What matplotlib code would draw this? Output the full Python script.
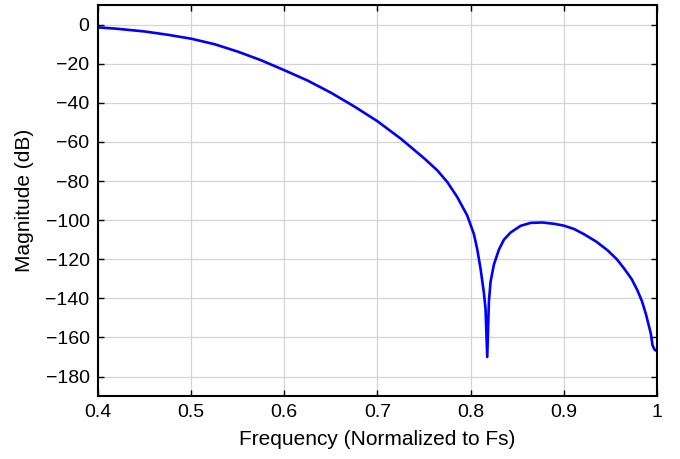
import numpy as np
import matplotlib.pyplot as plt

plt.rcParams['font.family'] = ['Liberation Sans', 'DejaVu Sans']

# values
freq = [0.400, 0.420, 0.450, 0.475, 0.500, 0.525, 0.550, 0.575, 0.600,
        0.625, 0.650, 0.675, 0.700, 0.725, 0.750, 0.7642, 0.775, 0.7857,
        0.7964, 0.8036, 0.8072, 0.8108, 0.8143, 0.8161, 0.8179,
        0.8197, 0.8215, 0.825, 0.8304, 0.8358, 0.843, 0.8538, 0.8645,
        0.877, 0.890, 0.900, 0.911, 0.9218, 0.935, 0.947, 0.957, 0.9649,
        0.973, 0.9792, 0.984, 0.9882, 0.9935, 0.9953, 0.9975, 1.000]
mag_db = [-1.4, -2.1, -3.5, -5.2, -7.2, -10.0, -13.8, -18.2, -23.3,
          -28.6, -34.8, -41.8, -49.4, -58.3, -68.3, -74.5, -80.5, -88.2,
          -97.6, -107.2, -114.9, -125.1, -137.1, -145.6, -170.0,
          -141.6, -131.4, -122.8, -115.1, -110.0, -106.3, -102.9, -101.4,
          -101.2, -101.9, -102.8, -104.5, -107.2, -111.0, -115.4, -120.0, -124.8,
          -130.2, -136.0, -141.5, -148.0, -158.0, -164.0, -166.2, -167.0]

xticks = [0.4, 0.5, 0.6, 0.7, 0.8, 0.9, 1.0]
xticklabels = ['0.4', '0.5', '0.6', '0.7', '0.8', '0.9', '1']
yticks = np.arange(-180, 1, 20)

fig = plt.figure(figsize=(6.8, 4.59), dpi=100)
ax = fig.add_axes([0.144, 0.137, 0.822, 0.852])

ax.plot(freq, mag_db, color='#0000ff', linewidth=1.9)

ax.set_xlim(0.4, 1.0)
ax.set_ylim(-190, 10)
ax.set_xticks(xticks)
ax.set_xticklabels(xticklabels)
ax.set_yticks(yticks)
ax.grid(True, color='#d4d4d4', linewidth=0.9)
ax.set_axisbelow(True)
ax.tick_params(direction='in', top=True, right=True, length=4, width=1,
               labelsize=14, pad=6)
for s in ax.spines.values():
    s.set_linewidth(1.5)

ax.set_xlabel('Frequency (Normalized to Fs)', fontsize=15, labelpad=6)
ax.set_ylabel('Magnitude (dB)', fontsize=15, labelpad=8)

fig.savefig('out.png', dpi=100)
